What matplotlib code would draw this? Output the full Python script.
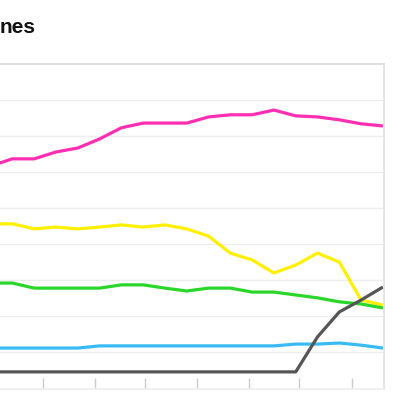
import numpy as np
import matplotlib.pyplot as plt

# one point per step, 19 steps (first one sits just off the left edge)
steps = np.arange(19)

pink = [6.16, 6.36, 6.36, 6.55, 6.66, 6.91, 7.22, 7.35, 7.35, 7.35,
        7.52, 7.58, 7.58, 7.71, 7.55, 7.52, 7.44, 7.33, 7.27]
yellow = [4.56, 4.56, 4.42, 4.47, 4.42, 4.47, 4.53, 4.47, 4.53, 4.42,
          4.22, 3.75, 3.56, 3.20, 3.42, 3.75, 3.50, 2.45, 2.31]
green = [2.92, 2.92, 2.78, 2.78, 2.78, 2.78, 2.87, 2.87, 2.78, 2.70,
         2.78, 2.78, 2.67, 2.67, 2.59, 2.51, 2.40, 2.34, 2.23]
blue = [1.12, 1.12, 1.12, 1.12, 1.12, 1.18, 1.18, 1.18, 1.18, 1.18,
        1.18, 1.18, 1.18, 1.18, 1.23, 1.23, 1.26, 1.20, 1.12]
black = [0.46, 0.46, 0.46, 0.46, 0.46, 0.46, 0.46, 0.46, 0.46, 0.46,
         0.46, 0.46, 0.46, 0.46, 0.46, 1.43, 2.12, 2.45, 2.81]

xticks = [2.40, 4.79, 7.08, 9.47, 11.85, 14.15, 16.58]

fig = plt.figure(figsize=(4, 4), dpi=100)
ax = fig.add_axes([0.0, 0.02875, 0.96, 0.8125])

lines = [
    (pink, '#ff2eb2'),
    (yellow, '#fff000'),
    (green, '#2ad62a'),
    (blue, '#38bbf5'),
    (black, '#555555'),
]
for vals, col in lines:
    ax.plot(steps, vals, color=col, lw=2.3, solid_joinstyle='round',
            solid_capstyle='butt')

ax.set_xlim(0.431, 18.05)
ax.set_ylim(0, 9)
ax.set_yticks(np.arange(1, 9))
ax.yaxis.grid(True, color='#eeeeee', lw=1)
ax.set_axisbelow(True)
ax.tick_params(axis='y', left=False, labelleft=False)
ax.set_xticks(xticks)
ax.tick_params(axis='x', direction='in', length=8, color='#cccccc',
               width=1, labelbottom=False)

ax.spines['left'].set_visible(False)
ax.spines['top'].set_color('#dddddd')
ax.spines['right'].set_color('#e2e2e2')
ax.spines['bottom'].set_color('#eeeeee')
for s in ['top', 'right', 'bottom']:
    ax.spines[s].set_linewidth(1.2)

fig.text(0.0, 0.932, 'nes', fontsize=15, fontweight='bold',
         family='Liberation Sans', ha='left', va='center', color='#111111')

fig.savefig('out.png', dpi=100)
